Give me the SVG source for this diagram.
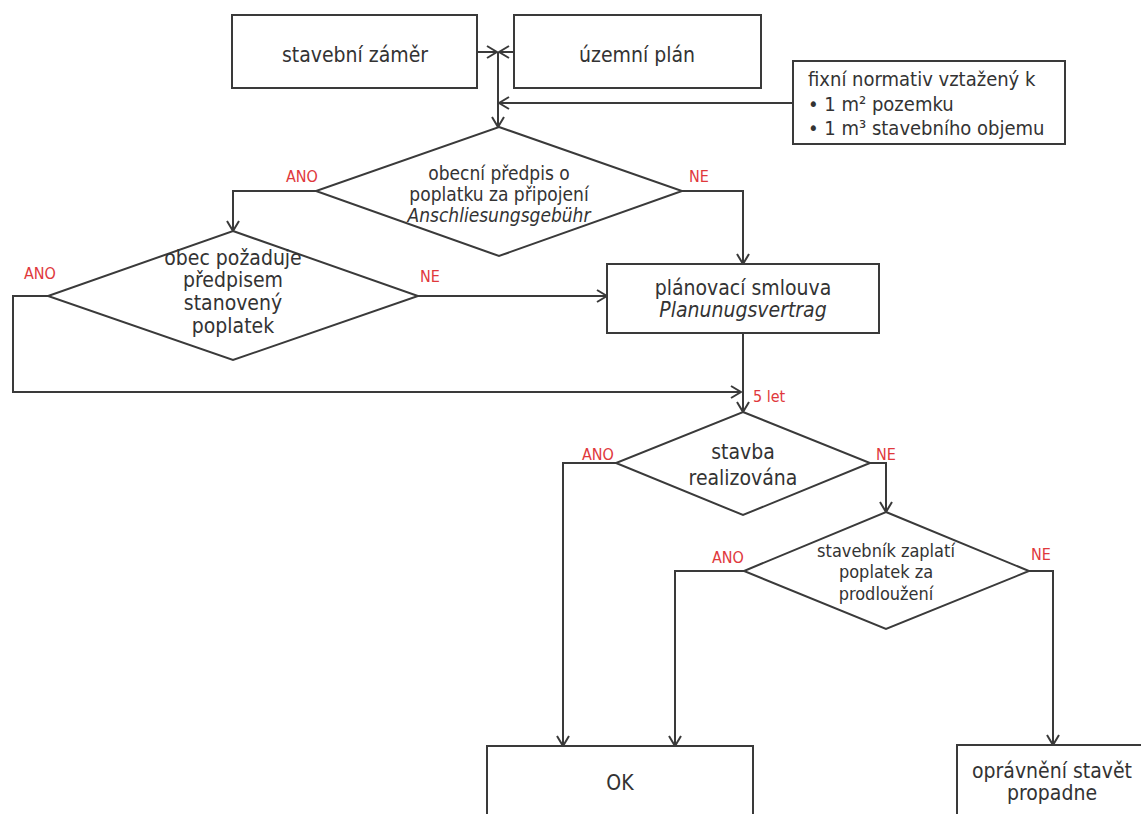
<svg xmlns="http://www.w3.org/2000/svg" width="1141" height="814" viewBox="0 0 1141 814">
<defs>
<style>
.box{fill:#fff;stroke:#3a3a3a;stroke-width:2}
.dia{fill:#fff;stroke:#3a3a3a;stroke-width:2}
.con{fill:none;stroke:#3a3a3a;stroke-width:2}
text{font-family:"DejaVu Sans Condensed","DejaVu Sans",sans-serif;fill:#333}
.t{font-size:21px;text-anchor:middle}
.m{font-size:19px;text-anchor:middle}
.s{font-size:18px;text-anchor:middle}
.lab{font-size:16px;fill:#e0383c}
.it{font-style:italic}
</style>
<marker id="ah" markerWidth="12" markerHeight="14" refX="11" refY="7" orient="auto" markerUnits="userSpaceOnUse">
<path d="M1,1 L11,7 L1,13" fill="none" stroke="#3a3a3a" stroke-width="2"/>
</marker>
</defs>
<rect width="1141" height="814" fill="#fff"/>

<g id="connectors">
<path class="con" d="M477,52 H497" marker-end="url(#ah)"/>
<path class="con" d="M514,52 H499" marker-end="url(#ah)"/>
<path class="con" d="M498,52 V127" marker-end="url(#ah)"/>
<path class="con" d="M793,103 H499" marker-end="url(#ah)"/>
<path class="con" d="M316,191 H233 V231" marker-end="url(#ah)"/>
<path class="con" d="M682,191 H743 V264" marker-end="url(#ah)"/>
<path class="con" d="M418,296 H607" marker-end="url(#ah)"/>
<path class="con" d="M48,296 H13 V392 H741" marker-end="url(#ah)"/>
<path class="con" d="M743,333 V412" marker-end="url(#ah)"/>
<path class="con" d="M616,463 H563 V746" marker-end="url(#ah)"/>
<path class="con" d="M870,463 H886 V512" marker-end="url(#ah)"/>
<path class="con" d="M744,571 H675 V746" marker-end="url(#ah)"/>
<path class="con" d="M1029,571 H1053 V745" marker-end="url(#ah)"/>
</g>

<g id="labels">
<text class="lab" x="286" y="182">ANO</text>
<text class="lab" x="689" y="182">NE</text>
<text class="lab" x="24" y="279">ANO</text>
<text class="lab" x="420" y="282">NE</text>
<text class="lab" x="753" y="402">5 let</text>
<text class="lab" x="582" y="460">ANO</text>
<text class="lab" x="876" y="460">NE</text>
<text class="lab" x="712" y="563">ANO</text>
<text class="lab" x="1031" y="560">NE</text>
</g>

<g id="n-zamer">
<rect class="box" x="232" y="15" width="245" height="73"/>
<text class="t" x="355" y="62">stavební záměr</text>
</g>
<g id="n-plan">
<rect class="box" x="514" y="15" width="247" height="73"/>
<text class="t" x="637" y="62">územní plán</text>
</g>
<g id="n-normativ">
<rect class="box" x="793" y="61" width="272" height="83"/>
<text x="808" y="86" font-size="20">fixní normativ vztažený k</text>
<text x="808" y="111" font-size="20">• 1 m² pozemku</text>
<text x="808" y="135" font-size="20">• 1 m³ stavebního objemu</text>
</g>
<g id="n-predpis">
<polygon class="dia" points="499,127 682,191 499,256 316,191"/>
<text class="m" x="499" y="180">obecní předpis o</text>
<text class="m" x="499" y="201">poplatku za připojení</text>
<text class="m it" x="499" y="222">Anschliesungsgebühr</text>
</g>
<g id="n-pozaduje">
<polygon class="dia" points="233,231 418,296 233,360 48,296"/>
<text class="t" x="233" y="265">obec požaduje</text>
<text class="t" x="233" y="287">předpisem</text>
<text class="t" x="233" y="310">stanovený</text>
<text class="t" x="233" y="333">poplatek</text>
</g>
<g id="n-smlouva">
<rect class="box" x="607" y="264" width="272" height="69"/>
<text class="t" x="743" y="295">plánovací smlouva</text>
<text class="t it" x="743" y="317">Planunugsvertrag</text>
</g>
<g id="n-stavba">
<polygon class="dia" points="743,412 870,463 743,515 616,463"/>
<text class="t" x="743" y="459">stavba</text>
<text class="t" x="743" y="485">realizována</text>
</g>
<g id="n-zaplati">
<polygon class="dia" points="886,512 1029,571 886,629 744,571"/>
<text class="s" x="886" y="557">stavebník zaplatí</text>
<text class="s" x="886" y="578">poplatek za</text>
<text class="s" x="886" y="600">prodloužení</text>
</g>
<g id="n-ok">
<rect class="box" x="487" y="746" width="266" height="90"/>
<text class="t" x="620" y="790">OK</text>
</g>
<g id="n-propadne">
<rect class="box" x="957" y="745" width="200" height="90"/>
<text class="t" x="1052" y="778" font-size="19.5">oprávnění stavět</text>
<text class="t" x="1052" y="800" font-size="19.5">propadne</text>
</g>
</svg>
